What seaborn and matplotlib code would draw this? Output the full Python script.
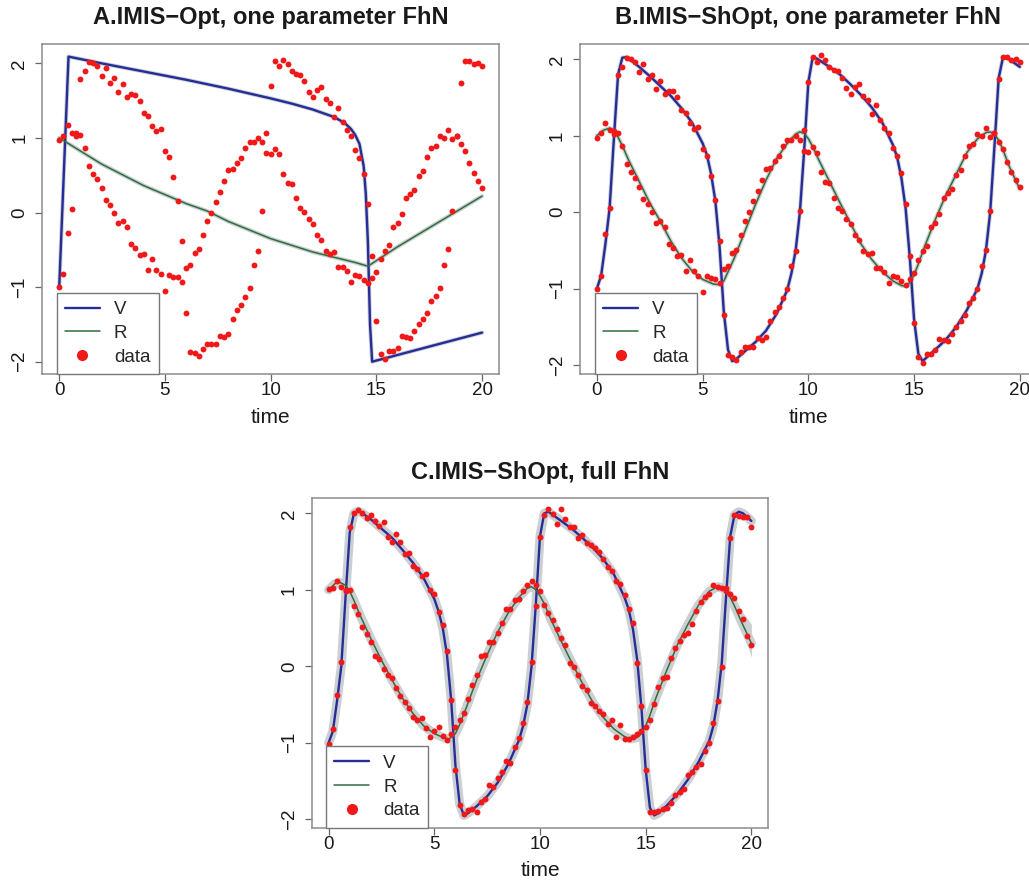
import numpy as np
import matplotlib
matplotlib.use("Agg")
import matplotlib.pyplot as plt
import seaborn as sns
from matplotlib.lines import Line2D

sns.set_theme(style="white")
plt.rcParams['font.family'] = ['Liberation Sans', 'DejaVu Sans']

# ---------------- data (time grid 0..20 step 0.2) ----------------
time = np.round(np.arange(101) * 0.2, 1)

# observations used in panels A and B
data_V_AB = [-1.00, -0.83, -0.28, 0.05, 1.02, 1.79, 1.90, 2.02, 2.00, 1.97,
             1.83, 1.94, 1.74, 1.80, 1.61, 1.72, 1.55, 1.59, 1.58, 1.50,
             1.33, 1.30, 1.16, 1.09, 1.12, 0.82, 0.74, 0.47, 0.16, -0.38,
             -1.35, -1.87, -1.89, -1.93, -1.83, -1.76, -1.76, -1.76, -1.65, -1.67,
             -1.63, -1.43, -1.31, -1.24, -1.13, -1.01, -0.70, -0.51, 0.02, 0.80,
             1.70, 2.03, 1.96, 2.05, 1.99, 1.90, 1.86, 1.85, 1.76, 1.62,
             1.55, 1.64, 1.68, 1.52, 1.47, 1.28, 1.40, 1.21, 1.10, 1.03,
             0.84, 0.73, 0.51, 0.11, -0.58, -1.45, -1.90, -1.97, -1.86, -1.86,
             -1.81, -1.66, -1.67, -1.68, -1.59, -1.50, -1.43, -1.35, -1.19, -1.12,
             -1.01, -0.71, -0.49, 0.02, 1.03, 1.74, 2.03, 2.03, 1.99, 2.01,
             1.96]
data_R_AB = [0.97, 1.03, 1.17, 1.07, 1.06, 1.04, 0.86, 0.63, 0.52, 0.45,
             0.33, 0.17, 0.10, 0.00, -0.14, -0.11, -0.19, -0.42, -0.47, -0.57,
             -0.56, -0.77, -0.62, -0.77, -0.83, -1.05, -0.84, -0.86, -0.87, -0.93,
             -0.75, -0.71, -0.54, -0.49, -0.30, -0.12, 0.00, 0.14, 0.28, 0.42,
             0.57, 0.58, 0.67, 0.73, 0.87, 0.94, 0.95, 1.00, 0.94, 1.07,
             0.79, 0.85, 0.78, 0.52, 0.39, 0.38, 0.19, 0.06, 0.01, -0.09,
             -0.16, -0.30, -0.37, -0.51, -0.55, -0.53, -0.73, -0.73, -0.78, -0.93,
             -0.84, -0.85, -0.90, -0.95, -0.88, -0.80, -0.63, -0.51, -0.44, -0.20,
             -0.14, -0.02, 0.19, 0.25, 0.30, 0.49, 0.55, 0.74, 0.86, 0.89,
             1.02, 1.00, 1.10, 0.98, 1.03, 0.92, 0.83, 0.66, 0.53, 0.42,
             0.33]

# observations used in panel C
data_V_C = [-1.02, -0.82, -0.38, 0.05, 1.00, 1.82, 2.00, 2.04, 2.00, 1.94,
            1.98, 1.90, 1.84, 1.89, 1.69, 1.63, 1.73, 1.62, 1.47, 1.48,
            1.31, 1.27, 1.18, 1.21, 1.00, 0.95, 0.71, 0.54, 0.20, -0.44,
            -1.35, -1.81, -1.93, -1.88, -1.87, -1.90, -1.77, -1.73, -1.55, -1.58,
            -1.46, -1.38, -1.24, -1.26, -1.05, -0.94, -0.74, -0.47, 0.05, 0.79,
            1.69, 1.98, 2.05, 1.99, 1.86, 2.06, 1.93, 1.82, 1.82, 1.68,
            1.71, 1.61, 1.59, 1.55, 1.50, 1.40, 1.30, 1.25, 1.12, 1.07,
            0.93, 0.75, 0.57, 0.04, -0.52, -1.36, -1.90, -1.90, -1.89, -1.87,
            -1.85, -1.79, -1.68, -1.64, -1.61, -1.42, -1.38, -1.31, -1.28, -1.11,
            -1.00, -0.74, -0.45, -0.01, 0.98, 1.68, 1.98, 1.96, 1.95, 1.95,
            1.82]
data_R_C = [1.01, 1.02, 1.12, 1.04, 0.99, 1.00, 0.79, 0.69, 0.51, 0.42,
            0.32, 0.13, 0.10, -0.04, -0.12, -0.15, -0.29, -0.39, -0.47, -0.55,
            -0.66, -0.70, -0.67, -0.81, -0.93, -0.85, -0.80, -0.91, -0.96, -0.88,
            -0.80, -0.70, -0.61, -0.43, -0.24, -0.11, 0.14, 0.15, 0.32, 0.32,
            0.44, 0.56, 0.75, 0.75, 0.87, 0.88, 0.99, 1.06, 1.11, 1.06,
            0.99, 0.80, 0.70, 0.61, 0.49, 0.37, 0.28, 0.04, -0.01, -0.11,
            -0.26, -0.31, -0.48, -0.52, -0.58, -0.63, -0.75, -0.70, -0.93, -0.77,
            -0.95, -0.95, -0.92, -0.88, -0.85, -0.80, -0.70, -0.49, -0.27, -0.15,
            -0.14, 0.11, 0.24, 0.33, 0.41, 0.44, 0.55, 0.72, 0.84, 0.90,
            0.94, 1.06, 1.03, 1.02, 1.02, 0.95, 0.89, 0.72, 0.62, 0.39,
            0.28]

# fitted trajectories
A_V_t = [0, 0.44, 2, 4, 6, 8, 10, 11, 12, 13, 13.5, 13.8, 14.0, 14.2, 14.4, 14.5, 14.6, 14.7, 14.8, 20]
A_V   = [-1.0, 2.09, 2.0, 1.89, 1.78, 1.66, 1.53, 1.46, 1.38, 1.28, 1.20, 1.12, 1.04, 0.92, 0.62, 0.25, -0.40, -1.50, -2.0, -1.61]
A_R_t = [0, 2, 4, 6, 7, 8, 10, 12, 13, 14, 14.6, 16, 18, 20]
A_R   = [1.0, 0.65, 0.36, 0.12, 0.02, -0.12, -0.35, -0.53, -0.60, -0.67, -0.72, -0.46, -0.12, 0.22]

B_V_t = [0, 0.2, 0.4, 0.6, 0.8, 1.0, 1.2, 1.4, 1.6, 2.0, 2.5, 3.0, 3.5, 4.0, 4.5, 5.0, 5.2, 5.4, 5.6, 5.8,
         6.0, 6.2, 6.4, 6.6, 7.0, 7.5, 8.0, 8.5, 9.0, 9.2, 9.4, 9.6, 9.8, 10.0, 10.2, 10.4, 11.0, 11.5, 12.0, 12.5,
         13.0, 13.5, 14.0, 14.2, 14.4, 14.6, 14.8, 15.0, 15.2, 15.4, 15.6, 16.0, 16.5, 17.0, 17.5, 18.0, 18.2, 18.4, 18.6, 18.8,
         19.0, 19.2, 19.4, 19.6, 20.0]
B_V   = [-1.0, -0.83, -0.42, 0.05, 0.95, 1.80, 2.02, 2.03, 1.99, 1.90, 1.78, 1.65, 1.52, 1.36, 1.17, 0.90, 0.75, 0.50, 0.15, -0.45,
         -1.30, -1.80, -1.95, -1.92, -1.82, -1.70, -1.55, -1.33, -1.02, -0.80, -0.50, 0.00, 0.80, 1.70, 2.02, 2.01, 1.90, 1.80, 1.67, 1.53,
         1.37, 1.17, 0.88, 0.72, 0.45, 0.05, -0.60, -1.40, -1.85, -1.95, -1.90, -1.80, -1.67, -1.50, -1.28, -1.00, -0.80, -0.50, 0.00, 0.85,
         1.75, 2.02, 2.02, 1.98, 1.90]
B_R_t = [0, 0.3, 0.6, 0.8, 1.0, 1.2, 1.5, 2.0, 2.5, 3.0, 3.5, 4.0, 4.5, 5.0, 5.5, 5.8, 6.0, 6.2, 6.5, 7.0,
         7.5, 8.0, 8.5, 9.0, 9.4, 9.6, 9.8, 10.0, 10.2, 10.5, 11.0, 11.5, 12.0, 12.5, 13.0, 13.5, 14.0, 14.4, 14.6, 14.8,
         15.0, 15.2, 15.5, 16.0, 16.5, 17.0, 17.5, 18.0, 18.4, 18.6, 18.8, 19.0, 19.2, 19.5, 20.0]
B_R   = [1.0, 1.07, 1.10, 1.07, 0.98, 0.87, 0.68, 0.40, 0.12, -0.12, -0.38, -0.60, -0.77, -0.88, -0.94, -0.95, -0.90, -0.78, -0.60, -0.25,
         0.10, 0.42, 0.70, 0.90, 1.02, 1.05, 1.03, 0.96, 0.86, 0.68, 0.40, 0.12, -0.15, -0.42, -0.62, -0.78, -0.90, -0.96, -0.97, -0.92,
         -0.82, -0.68, -0.45, -0.10, 0.22, 0.50, 0.78, 0.96, 1.04, 1.05, 1.02, 0.94, 0.82, 0.60, 0.30]

C_V_t = [0, 0.2, 0.4, 0.6, 0.8, 1.0, 1.2, 1.4, 1.6, 2.0, 2.5, 3.0, 3.5, 4.0, 4.5, 5.0, 5.2, 5.4, 5.6, 5.8,
         6.0, 6.2, 6.4, 6.6, 7.0, 7.5, 8.0, 8.5, 9.0, 9.2, 9.4, 9.6, 9.8, 10.0, 10.2, 10.4, 11.0, 11.5, 12.0, 12.5,
         13.0, 13.5, 14.0, 14.2, 14.4, 14.6, 14.8, 15.0, 15.2, 15.4, 15.6, 16.0, 16.5, 17.0, 17.5, 18.0, 18.2, 18.4, 18.6, 18.8,
         19.0, 19.2, 19.4, 19.6, 20.0]
C_V   = [-1.0, -0.85, -0.45, 0.00, 0.90, 1.75, 2.00, 2.03, 2.00, 1.92, 1.80, 1.68, 1.52, 1.35, 1.15, 0.88, 0.72, 0.50, 0.15, -0.45,
         -1.30, -1.80, -1.95, -1.92, -1.83, -1.70, -1.52, -1.28, -0.97, -0.78, -0.50, 0.00, 0.80, 1.70, 2.00, 2.02, 1.90, 1.80, 1.68, 1.55,
         1.40, 1.20, 0.90, 0.74, 0.48, 0.08, -0.55, -1.35, -1.85, -1.95, -1.92, -1.82, -1.67, -1.48, -1.25, -0.98, -0.78, -0.45, 0.05, 0.90,
         1.70, 1.98, 2.02, 2.00, 1.90]
C_R_t = [0, 0.3, 0.5, 0.8, 1.0, 1.2, 1.5, 2.0, 2.5, 3.0, 3.5, 4.0, 4.5, 5.0, 5.5, 5.7, 6.0, 6.2, 6.5, 7.0,
         7.5, 8.0, 8.5, 9.0, 9.4, 9.6, 9.8, 10.0, 10.2, 10.5, 11.0, 11.5, 12.0, 12.5, 13.0, 13.5, 14.0, 14.3, 14.6, 14.8,
         15.0, 15.2, 15.5, 16.0, 16.5, 17.0, 17.5, 18.0, 18.4, 18.6, 18.8, 19.0, 19.2, 19.5, 20.0]
C_R   = [1.0, 1.08, 1.10, 1.06, 0.98, 0.86, 0.66, 0.36, 0.08, -0.18, -0.42, -0.62, -0.78, -0.88, -0.94, -0.95, -0.88, -0.76, -0.55, -0.18,
         0.15, 0.45, 0.70, 0.90, 1.02, 1.04, 1.00, 0.92, 0.82, 0.62, 0.33, 0.05, -0.22, -0.47, -0.67, -0.82, -0.92, -0.95, -0.93, -0.88,
         -0.78, -0.64, -0.40, -0.05, 0.28, 0.55, 0.80, 0.98, 1.04, 1.03, 0.98, 0.90, 0.79, 0.60, 0.30]
# widening uncertainty band of R at the end of panel C
C_Rband_t  = [18.4, 18.8, 19.2, 19.6, 20.0]
C_Rband_lo = [1.00, 0.93, 0.72, 0.45, 0.12]
C_Rband_hi = [1.08, 1.04, 0.88, 0.70, 0.55]

titles = ["A.IMIS\u2212Opt, one parameter FhN",
          "B.IMIS\u2212ShOpt, one parameter FhN",
          "C.IMIS\u2212ShOpt, full FhN"]
xticks = [0, 5, 10, 15, 20]
yticks = [-2, -1, 0, 1, 2]
ytick_labels = ["\u22122", "\u22121", "0", "1", "2"]
legend_labels = ["V", "R", "data"]

# ---------------- styling ----------------
V_COL = "#262c98"
R_COL = "#2f6e3e"
PT_COL = "#f01818"
BAND_COL = "#cbcfd2"
SPINE_COL = "#8c8c8c"

W, H = 1029, 881
fig = plt.figure(figsize=(W / 100, H / 100), dpi=100)


def px_axes(left, top, width, height):
    return fig.add_axes([left / W, 1 - (top + height) / H, width / W, height / H])


def panel(ax, vt, vv, rt, rv, dV, dR, band_lw, ylim, title, title_base, xlabel_base, leg_x):
    kw = dict(ax=ax, estimator=None, sort=False, legend=False, errorbar=None)
    sns.lineplot(x=vt, y=vv, color=BAND_COL, lw=band_lw, solid_capstyle="round", zorder=1, **kw)
    sns.lineplot(x=rt, y=rv, color=BAND_COL, lw=band_lw, solid_capstyle="round", zorder=1, **kw)
    sns.lineplot(x=vt, y=vv, color=V_COL, lw=1.7, zorder=3, **kw)
    sns.lineplot(x=rt, y=rv, color=R_COL, lw=1.1, zorder=3, **kw)
    sns.scatterplot(x=time, y=dV, color=PT_COL, s=18, linewidth=0, zorder=4, ax=ax, legend=False)
    sns.scatterplot(x=time, y=dR, color=PT_COL, s=18, linewidth=0, zorder=4, ax=ax, legend=False)

    ax.set_xlim(-0.8, 20.8)
    ax.set_ylim(*ylim)
    ax.set_xticks(xticks)
    ax.set_xticklabels([str(v) for v in xticks])
    ax.set_yticks(yticks)
    ax.set_yticklabels(ytick_labels)
    ax.tick_params(axis="both", which="both", bottom=True, left=True, direction="out",
                   length=5, width=0.9, color="#666666", labelsize=13.5, labelcolor="#1a1a1a")
    ax.tick_params(axis="x", pad=1)
    ax.tick_params(axis="y", pad=5, labelrotation=90)
    for lab in ax.get_yticklabels():
        lab.set_va("center")
    for sp in ax.spines.values():
        sp.set_color(SPINE_COL)
        sp.set_linewidth(1.1)
    ax.set_xlabel("")
    ax.set_ylabel("")

    handles = [Line2D([], [], color=V_COL, lw=1.7),
               Line2D([], [], color=R_COL, lw=1.1),
               Line2D([], [], color="none", marker="o", markersize=7,
                      markerfacecolor=PT_COL, markeredgecolor=PT_COL)]
    leg = ax.legend(handles, legend_labels, loc="lower left", bbox_to_anchor=(leg_x, 0.0),
                    borderaxespad=0, frameon=True, fancybox=False, framealpha=1,
                    edgecolor="#777777", fontsize=13.5, handlelength=1.85,
                    handletextpad=0.75, labelspacing=0.35, borderpad=0.45)
    leg.get_frame().set_linewidth(1.0)
    leg.set_zorder(10)

    pos = ax.get_position()
    cx = (pos.x0 + pos.x1) / 2
    fig.text(cx, 1 - title_base / H, title, ha="center", va="baseline",
             fontsize=17, fontweight="bold", color="#1a1a1a")
    fig.text(cx, 1 - xlabel_base / H, "time", ha="center", va="baseline",
             fontsize=15, color="#1a1a1a")


axA = px_axes(42.3, 44, 456.7, 330)
axB = px_axes(580, 44, 456.7, 330)
axC = px_axes(311.7, 498.3, 456.6, 329.4)

panel(axA, A_V_t, A_V, A_R_t, A_R, data_V_AB, data_R_AB, 3.0,
      (-2.165, 2.259), titles[0], 24, 422.7, 0.0315)
panel(axB, B_V_t, B_V, B_R_t, B_R, data_V_AB, data_R_AB, 3.0,
      (-2.118, 2.200), titles[1], 24, 422.7, 0.0328)
axC.fill_between(C_Rband_t, C_Rband_lo, C_Rband_hi, color=BAND_COL, lw=0, zorder=1)
panel(axC, C_V_t, C_V, C_R_t, C_R, data_V_C, data_R_C, 6.5,
      (-2.110, 2.196), titles[2], 479.3, 876, 0.0313)

fig.savefig("out.png", dpi=100)
